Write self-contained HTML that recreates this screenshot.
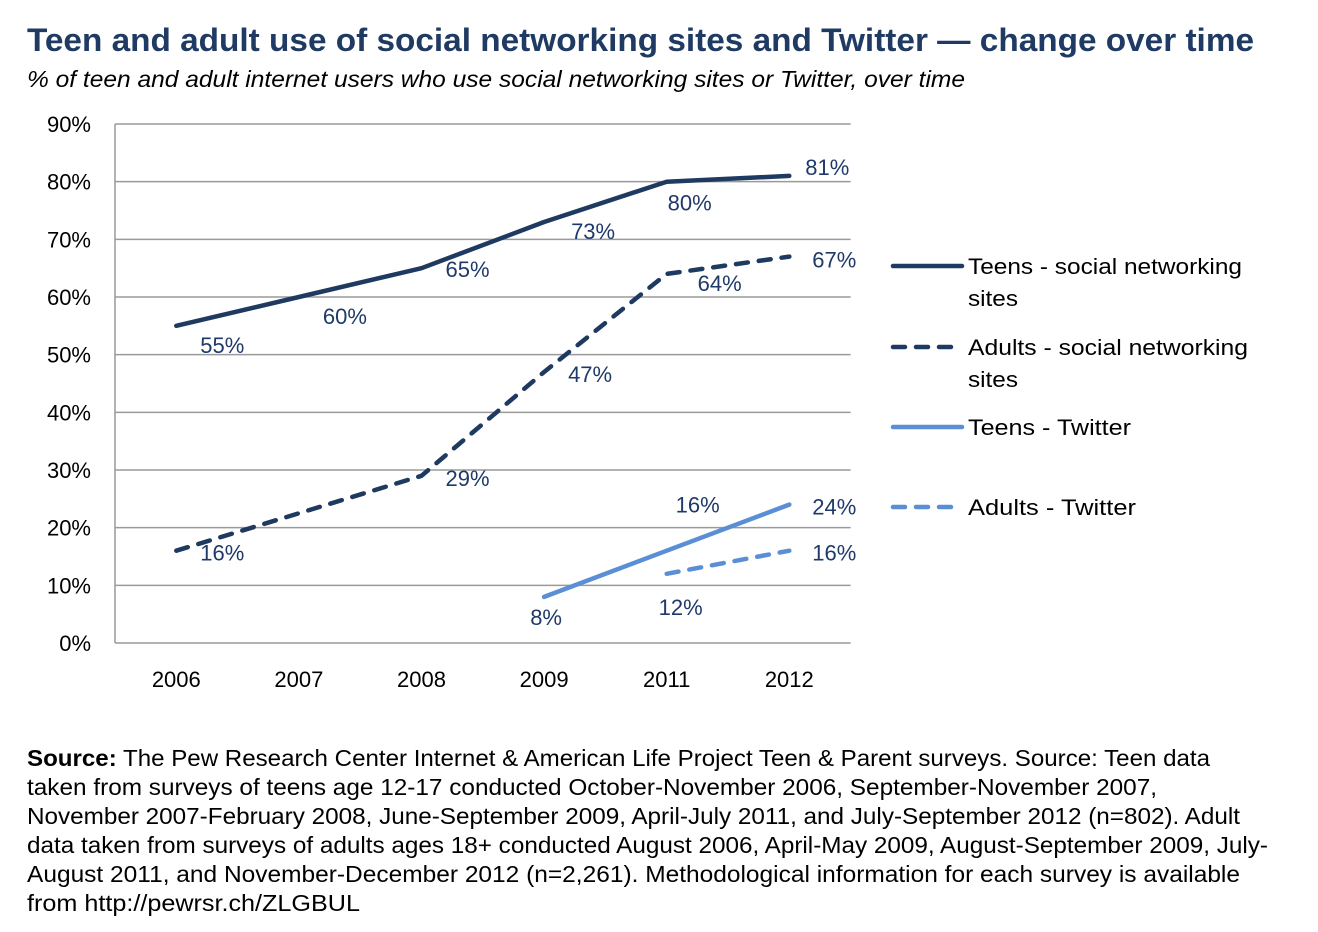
<!DOCTYPE html>
<html><head><meta charset="utf-8"><style>
html,body{margin:0;padding:0;background:#fff;}
svg{display:block;font-family:"Liberation Sans",sans-serif;}
</style></head><body>
<svg id="chart" width="1318" height="932" viewBox="0 0 1318 932" xmlns="http://www.w3.org/2000/svg">
<text x="27" y="51" font-size="32" font-weight="bold" fill="#1f3a63" textLength="1227" lengthAdjust="spacingAndGlyphs">Teen and adult use of social networking sites and Twitter — change over time</text>
<text x="27" y="87" font-size="23" font-style="italic" fill="#000" textLength="938" lengthAdjust="spacingAndGlyphs">% of teen and adult internet users who use social networking sites or Twitter, over time</text>
<g id="grid"></g>
<g id="yaxis"></g>
<g id="xaxis"></g>
<g id="series"></g>
<g id="labels"></g>
<g id="legend"></g>
<g font-size="23" fill="#000">
<text x="27" y="766" textLength="1183" lengthAdjust="spacingAndGlyphs"><tspan font-weight="bold">Source:</tspan> The Pew Research Center Internet &amp; American Life Project Teen &amp; Parent surveys.  Source: Teen data</text>
<text x="27" y="795" textLength="1130" lengthAdjust="spacingAndGlyphs">taken from surveys of teens age 12-17 conducted October-November 2006, September-November 2007,</text>
<text x="27" y="824" textLength="1213" lengthAdjust="spacingAndGlyphs">November 2007-February 2008, June-September 2009, April-July 2011, and July-September 2012 (n=802). Adult</text>
<text x="27" y="853" textLength="1241" lengthAdjust="spacingAndGlyphs">data taken from surveys of adults ages 18+ conducted August 2006, April-May 2009, August-September 2009, July-</text>
<text x="27" y="882" textLength="1213" lengthAdjust="spacingAndGlyphs">August 2011, and November-December 2012 (n=2,261). Methodological information for each survey is available</text>
<text x="27" y="911" textLength="333" lengthAdjust="spacingAndGlyphs">from http://pewrsr.ch/ZLGBUL</text>
</g>
</svg>
<script>
const categories = ["2006","2007","2008","2009","2011","2012"];
const teensSN = [55, 60, 65, 73, 80, 81];
const adultsSN = [16, null, 29, 47, 64, 67];
const teensTW = [null, null, null, 8, 16, 24];
const adultsTW = [null, null, null, null, 12, 16];
const yTicks = [0,10,20,30,40,50,60,70,80,90];
const seriesNames = ["Teens - social networking sites","Adults - social networking sites","Teens - Twitter","Adults - Twitter"];

const NS = "http://www.w3.org/2000/svg";
const L = 115, R = 850.6, T = 124, B = 643;
const band = (R - L) / categories.length;
const xs = i => L + (i + 0.5) * band;
const ys = v => B - (v / 90) * (B - T);
const DARK = "#1f3a60", LIGHT = "#5b8fd5";
function mk(tag, attrs, parent, txt){
  const e = document.createElementNS(NS, tag);
  for (const k in attrs) e.setAttribute(k, attrs[k]);
  if (txt !== undefined) e.textContent = txt;
  parent.appendChild(e); return e;
}
const grid = document.getElementById('grid');
yTicks.forEach(t => {
  const ln = mk('line', {x1:L, x2:R, y1:ys(t), y2:ys(t), stroke:'#9a9a9a', 'stroke-width':1.5}, grid);
  
  
});
const vax = mk('line', {x1:L, x2:L, y1:T, y2:B, stroke:'#9a9a9a', 'stroke-width':1.5}, grid);


const ya = document.getElementById('yaxis');
yTicks.forEach(t => {
  const tx = mk('text', {x:91, y:ys(t)+8, 'font-size':22, 'text-anchor':'end', fill:'#000'}, ya, t + '%');
  
  
});
const xa = document.getElementById('xaxis');
categories.forEach((c, i) => {
  const tx = mk('text', {x:xs(i), y:687, 'font-size':22, 'text-anchor':'middle', fill:'#000'}, xa, c);
  
  
});
const sg = document.getElementById('series');
const lg = document.getElementById('labels');
const defs = [
  {data:teensSN, color:DARK, dash:null, name:'teens-social-networking-line', off:[[46,19],[46,19],[46,1],[49,9],[23,21],[38,-9]]},
  {data:adultsSN, color:DARK, dash:'12 11', name:'adults-social-networking-line', off:[[46,2],[0,0],[46,2],[46,2],[53,9],[45,3]]},
  {data:teensTW, color:LIGHT, dash:null, name:'teens-twitter-line', off:[[0,0],[0,0],[0,0],[2,20],[31,-46],[45,2]]},
  {data:adultsTW, color:LIGHT, dash:'12 11', name:'adults-twitter-line', off:[[0,0],[0,0],[0,0],[0,0],[14,33],[45,2]]}
];
defs.forEach(d => {
  const pts = [];
  d.data.forEach((v, i) => { if (v !== null) pts.push([xs(i), ys(v), v, i]); });
  const a = {d:'M' + pts.map(p => p[0].toFixed(1) + ',' + p[1].toFixed(1)).join(' L'), fill:'none', stroke:d.color, 'stroke-width':4.5, 'stroke-linecap':'round','stroke-linejoin':'round'};
  if (d.dash) a['stroke-dasharray'] = d.dash;
  const p = mk('path', a, sg);
  
  
  pts.forEach(pt => {
    const o = d.off[pt[3]];
    const t = mk('text', {x:pt[0]+o[0], y:pt[1]+o[1]+8, 'font-size':22, 'text-anchor':'middle', fill:'#1f3a6a'}, lg, pt[2] + '%');
    
    
  });
});
const leg = document.getElementById('legend');
const legY = [266, 347, 427, 507];
const legW = [274, 280, 163, 168];
defs.forEach((d, k) => {
  const g = mk('g', {}, leg);
  
  
  const a = {x1:893, x2:d.dash ? 958 : 962, y1:legY[k], y2:legY[k], stroke:d.color, 'stroke-width':4.5, 'stroke-linecap':'round'};
  if (d.dash) a['stroke-dasharray'] = '12 11';
  mk('line', a, g);
  const words = seriesNames[k];
  if (words.endsWith(' sites')) {
    mk('text', {x:968, y:legY[k]+8, 'font-size':22, fill:'#000', textLength:legW[k], lengthAdjust:'spacingAndGlyphs'}, g, words.slice(0, -6));
    mk('text', {x:968, y:legY[k]+40, 'font-size':22, fill:'#000', textLength:50, lengthAdjust:'spacingAndGlyphs'}, g, 'sites');
  } else {
    mk('text', {x:968, y:legY[k]+8, 'font-size':22, fill:'#000', textLength:legW[k], lengthAdjust:'spacingAndGlyphs'}, g, words);
  }
});
</script>
</body></html>
